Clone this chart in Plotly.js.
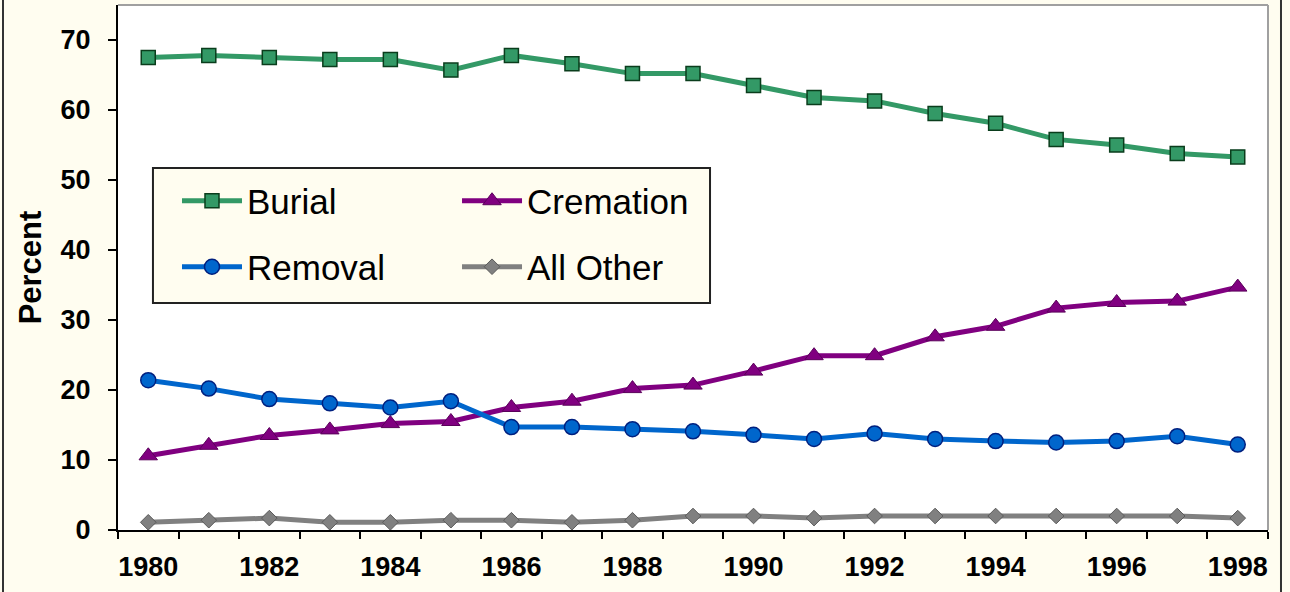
<!DOCTYPE html>
<html><head><meta charset="utf-8">
<script src="https://cdn.plot.ly/plotly-3.0.1.min.js"></script>
<style>html,body{margin:0;padding:0;background:#FFFDF0;} #chart{width:1290px;height:592px;}</style>
</head><body><div id="chart"></div>
<script>
const years = [1980,1981,1982,1983,1984,1985,1986,1987,1988,1989,1990,1991,1992,1993,1994,1995,1996,1997,1998];
const burial    = [67.5,67.8,67.5,67.2,67.2,65.7,67.8,66.6,65.2,65.2,63.5,61.8,61.3,59.5,58.1,55.8,55.0,53.8,53.3];
const cremation = [10.6,12.1,13.5,14.3,15.2,15.5,17.5,18.4,20.2,20.7,22.7,24.9,24.9,27.6,29.1,31.7,32.5,32.7,34.7];
const removal   = [21.4,20.2,18.7,18.1,17.5,18.4,14.7,14.7,14.4,14.1,13.6,13.0,13.8,13.0,12.7,12.5,12.7,13.4,12.2];
const allOther  = [1.1,1.4,1.7,1.1,1.1,1.4,1.4,1.1,1.4,2.0,2.0,1.7,2.0,2.0,2.0,2.0,2.0,2.0,1.7];
const xTickVals = [1980,1982,1984,1986,1988,1990,1992,1994,1996,1998];
const xTickText = ['1980','1982','1984','1986','1988','1990','1992','1994','1996','1998'];
const yTickVals = [0,10,20,30,40,50,60,70];

const FONT = 'Liberation Sans, Arial, sans-serif';

const traces = [
  {x: years, y: burial, name: 'Burial', mode: 'lines+markers', legend: 'legend',
   line: {color: '#339966', width: 5},
   marker: {symbol: 'square', size: 14, color: '#339966', line: {color: '#0A3D1C', width: 1.5}}},
  {x: years, y: cremation, name: 'Cremation', mode: 'lines+markers', legend: 'legend2',
   line: {color: '#800080', width: 5},
   marker: {symbol: 'triangle-up', size: 16, color: '#800080', line: {color: '#5A005A', width: 1}}},
  {x: years, y: removal, name: 'Removal', mode: 'lines+markers', legend: 'legend3',
   line: {color: '#0066CC', width: 5},
   marker: {symbol: 'circle', size: 15, color: '#0066CC', line: {color: '#00207F', width: 1.5}}},
  {x: years, y: allOther, name: 'All Other', mode: 'lines+markers', legend: 'legend4',
   line: {color: '#808080', width: 5},
   marker: {symbol: 'diamond', size: 12, color: '#808080', line: {color: '#5A5A5A', width: 1}}}
];

function leg(x, y) {
  return {x: x, y: y, xanchor: 'left', yanchor: 'middle', bgcolor: 'rgba(0,0,0,0)',
          borderwidth: 0, itemwidth: 60, font: {family: FONT, size: 35, color: '#000'}};
}

const layout = {
  width: 1290, height: 592,
  paper_bgcolor: '#FFFDF0', plot_bgcolor: '#FFFFFF',
  margin: {l: 118, r: 22, t: 5, b: 62},
  showlegend: true,
  legend: leg(0.0513, 0.6267),
  legend2: leg(0.2948, 0.6267),
  legend3: leg(0.0513, 0.501),
  legend4: leg(0.2948, 0.501),
  font: {family: FONT, color: '#000'},
  xaxis: {
    range: [1979.5, 1998.5], showgrid: false, zeroline: false,
    showline: true, linecolor: '#000', linewidth: 2,
    tickmode: 'array', tickvals: xTickVals, ticktext: xTickText,
    ticks: '', ticklabelstandoff: 12,
    tickfont: {family: FONT, size: 27, weight: 'bold', color: '#000'},
    minor: {tick0: 1979.5, dtick: 1, ticks: 'outside', ticklen: 7, tickwidth: 2, tickcolor: '#000', showgrid: false}
  },
  yaxis: {
    range: [0, 75], showgrid: false, zeroline: false,
    showline: true, linecolor: '#000', linewidth: 2,
    tickmode: 'array', tickvals: yTickVals,
    ticks: 'outside', ticklen: 8, tickwidth: 2, tickcolor: '#000', ticklabelstandoff: 12,
    tickfont: {family: FONT, size: 27, weight: 'bold', color: '#000'},
    title: {text: 'Percent', font: {family: FONT, size: 31, weight: 'bold', color: '#000'}, standoff: 10}
  },
  shapes: [
    {type: 'rect', xref: 'paper', yref: 'paper', x0: 0.0304, x1: 0.5148, y0: 0.4324, y1: 0.6895,
     fillcolor: '#FFFDF0', line: {color: '#222222', width: 2}, layer: 'above'},
    {type: 'line', xref: 'paper', yref: 'paper', x0: 0, x1: 1, y0: 1, y1: 1, line: {color: '#A0A0A0', width: 2}},
    {type: 'line', xref: 'paper', yref: 'paper', x0: 1, x1: 1, y0: 0, y1: 1, line: {color: '#A0A0A0', width: 2}},
    {type: 'line', xref: 'paper', yref: 'paper', x0: -0.1, x1: -0.1, y0: -0.2, y1: 1.02, line: {color: '#333333', width: 2}},
    {type: 'line', xref: 'paper', yref: 'paper', x0: 1.0113, x1: 1.0113, y0: -0.2, y1: 1.02, line: {color: '#333333', width: 2}}
  ]
};

Plotly.newPlot('chart', traces, layout, {displayModeBar: false, staticPlot: true});
</script>
</body></html>
